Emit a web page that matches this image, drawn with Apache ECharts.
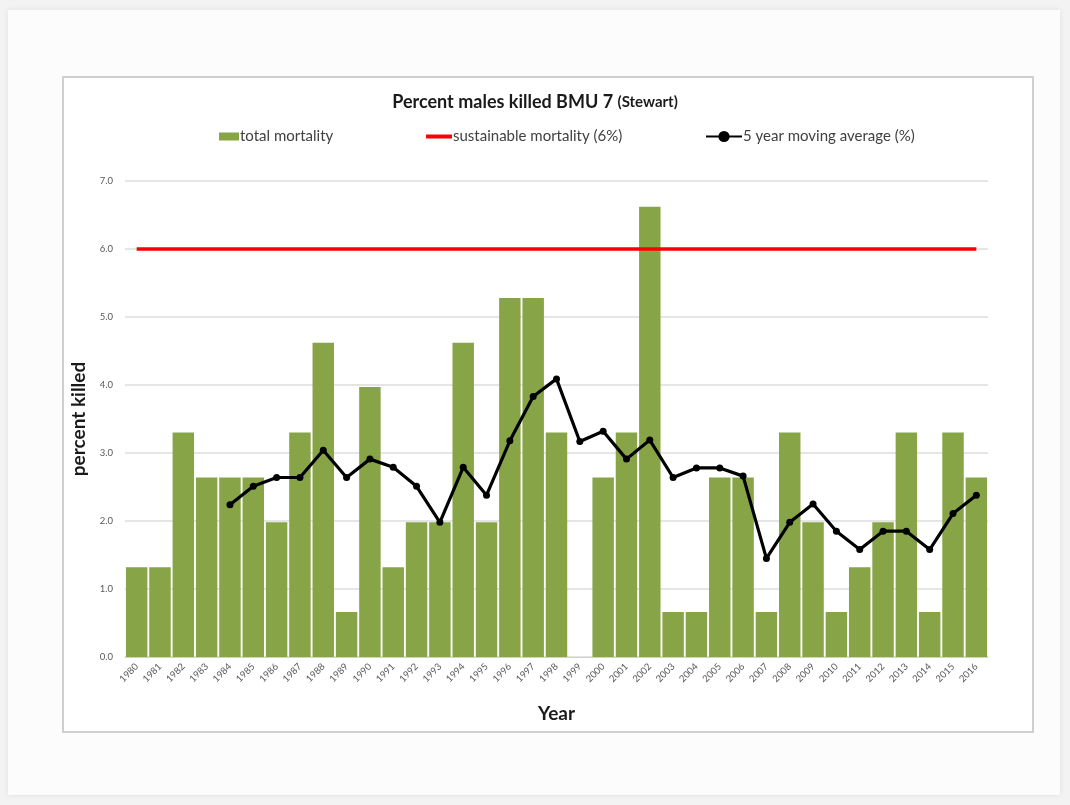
<!DOCTYPE html>
<html>
<head>
<meta charset="utf-8">
<title>Percent males killed BMU 7 (Stewart)</title>
<script src="https://cdn.jsdelivr.net/npm/echarts@6/dist/echarts.min.js"></script>
<style>
  html, body { margin: 0; padding: 0; background: #f3f3f3; }
  #chart { width: 1070px; height: 805px; }
</style>
</head>
<body>
<div id="chart"></div>
<script>
// Years on the category axis
const years = [
  '1980','1981','1982','1983','1984','1985','1986','1987','1988','1989',
  '1990','1991','1992','1993','1994','1995','1996','1997','1998','1999',
  '2000','2001','2002','2003','2004','2005','2006','2007','2008','2009',
  '2010','2011','2012','2013','2014','2015','2016'
];

// Total mortality per year (%)
const totalMortality = [
  1.32, 1.32, 3.30, 2.64, 2.64, 2.64, 1.98, 3.30, 4.62, 0.66,
  3.97, 1.32, 1.98, 1.98, 4.62, 1.98, 5.28, 5.28, 3.30, 0,
  2.64, 3.30, 6.62, 0.66, 0.66, 2.64, 2.64, 0.66, 3.30, 1.98,
  0.66, 1.32, 1.98, 3.30, 0.66, 3.30, 2.64
];

// Sustainable mortality threshold (%)
const sustainable = [
  6, 6, 6, 6, 6, 6, 6, 6, 6, 6,
  6, 6, 6, 6, 6, 6, 6, 6, 6, 6,
  6, 6, 6, 6, 6, 6, 6, 6, 6, 6,
  6, 6, 6, 6, 6, 6, 6
];

// 5 year moving average (%), starting in 1984
const movingAverage = [
  null, null, null, null, 2.24, 2.51, 2.64, 2.64, 3.04, 2.64,
  2.91, 2.79, 2.51, 1.98, 2.79, 2.38, 3.18, 3.83, 4.09, 3.17,
  3.32, 2.91, 3.19, 2.64, 2.78, 2.78, 2.66, 1.45, 1.98, 2.25,
  1.85, 1.58, 1.85, 1.85, 1.58, 2.11, 2.38
];

// Y axis tick range
const yMin = 0, yMax = 7, yStep = 1;

const chart = echarts.init(document.getElementById('chart'), null, { renderer: 'canvas' });

const font = 'Lato, "Open Sans", "DejaVu Sans", sans-serif';
const legendText = { fontFamily: font, fontSize: 15, color: '#404040', padding: [0, 0, 0, -4] };

chart.setOption({
  backgroundColor: 'transparent',
  animation: false,
  textStyle: { fontFamily: font },
  graphic: [
    {
      type: 'rect', z: -10, silent: true,
      shape: { x: 8, y: 10, width: 1052, height: 785 },
      style: { fill: '#fcfcfc', shadowBlur: 6, shadowColor: 'rgba(0,0,0,0.08)' }
    },
    {
      type: 'rect', z: -9, silent: true,
      shape: { x: 63, y: 77, width: 970, height: 655 },
      style: { fill: '#ffffff', stroke: '#cfcfcf', lineWidth: 2 }
    }
  ],
  title: {
    left: 'center',
    top: 88,
    text: '{a|Percent males killed BMU 7 }{b|(Stewart)}',
    textStyle: {
      rich: {
        a: { fontFamily: font, fontSize: 18, fontWeight: 'bold', color: '#1a1a1a' },
        b: { fontFamily: font, fontSize: 15, fontWeight: 'bold', color: '#1a1a1a' }
      }
    }
  },
  legend: [
    {
      data: ['total mortality'], left: 214, top: 124,
      icon: 'rect', itemWidth: 20, itemHeight: 8,
      textStyle: legendText
    },
    {
      data: [{ name: 'sustainable mortality (6%)', icon: 'rect' }], left: 421, top: 124,
      itemWidth: 26, itemHeight: 4,
      textStyle: legendText
    },
    {
      data: ['5 year moving average (%)'], left: 700, top: 124,
      itemWidth: 36, itemHeight: 14,
      textStyle: legendText
    }
  ],
  grid: { left: 125, right: 82, top: 181, bottom: 148, containLabel: false },
  xAxis: {
    type: 'category',
    data: years,
    name: 'Year',
    nameLocation: 'middle',
    nameGap: 47,
    nameTextStyle: { fontFamily: font, fontSize: 19, fontWeight: 'bold', color: '#1a1a1a' },
    axisLine: { lineStyle: { color: '#d0d0d0' } },
    axisTick: { show: false },
    axisLabel: { rotate: 45, interval: 0, fontSize: 9.5, color: '#595959', margin: 8 }
  },
  yAxis: {
    type: 'value',
    min: yMin, max: yMax, interval: yStep,
    name: 'percent killed',
    nameLocation: 'middle',
    nameGap: 37,
    nameTextStyle: { fontFamily: font, fontSize: 19, fontWeight: 'bold', color: '#1a1a1a' },
    axisLine: { show: false },
    axisTick: { show: false },
    axisLabel: { fontSize: 9.5, color: '#595959', margin: 12, formatter: v => v.toFixed(1) },
    splitLine: { lineStyle: { color: '#dcdcdc', width: 1.5 } }
  },
  series: [
    {
      name: 'total mortality',
      type: 'bar',
      data: totalMortality,
      barCategoryGap: '8%',
      itemStyle: { color: '#87a547' },
      z: 1
    },
    {
      name: 'sustainable mortality (6%)',
      type: 'line',
      data: sustainable,
      symbol: 'none',
      lineStyle: { color: '#ff0000', width: 3.5 },
      itemStyle: { color: '#ff0000' },
      z: 3
    },
    {
      name: '5 year moving average (%)',
      type: 'line',
      data: movingAverage,
      symbol: 'circle',
      symbolSize: 7,
      showSymbol: true,
      connectNulls: false,
      lineStyle: { color: '#000000', width: 3.2 },
      itemStyle: { color: '#000000' },
      z: 4
    }
  ]
});
</script>
</body>
</html>
